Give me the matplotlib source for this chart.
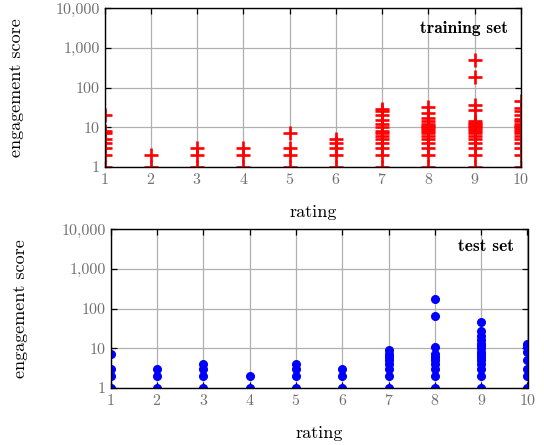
import matplotlib
matplotlib.use('Agg')
import matplotlib.pyplot as plt
from matplotlib.ticker import FixedLocator, FuncFormatter, LogLocator, NullFormatter

plt.rcParams['font.family'] = ['cmr10', 'DejaVu Serif']
plt.rcParams['axes.formatter.use_mathtext'] = True

# engagement scores per rating
train = {
    1: [1, 2, 3, 4, 5, 7, 8, 20],
    2: [1, 2],
    3: [1, 2, 3],
    4: [1, 2, 3],
    5: [1, 2, 3, 7],
    6: [1, 2, 3, 4, 5],
    7: [1, 2, 3, 4, 5, 6, 7, 8, 10, 12, 15, 20, 25, 28],
    8: [1, 2, 3, 4, 5, 6, 7, 8, 9, 10, 11, 12, 14, 17, 23, 33],
    9: [1, 2, 3, 4, 5, 6, 7, 8, 9, 10, 11, 12, 13, 14, 27, 36, 180, 500],
    10: [1, 2, 3, 4, 5, 6, 7, 8, 9, 10, 11, 12, 14, 16, 20, 25, 30, 45],
}
test = {
    1: [1, 2, 3, 7],
    2: [1, 2, 3],
    3: [1, 2, 3, 4],
    4: [1, 2],
    5: [1, 2, 3, 4],
    6: [1, 2, 3],
    7: [1, 2, 3, 4, 5, 6, 7, 9],
    8: [1, 2, 3, 4, 5, 6, 7, 11, 65, 172],
    9: [1, 2, 3, 4, 5, 6, 7, 8, 10, 12, 13, 16, 20, 27, 47],
    10: [1, 2, 3, 5, 8, 11, 13],
}
yticks = [1, 10, 100, 1000, 10000]
ratings = list(range(1, 11))


def flat(d):
    xs, ys = [], []
    for k, v in d.items():
        xs += [k] * len(v)
        ys += v
    return xs, ys


def style(ax, title, ty):
    ax.set_yscale('log')
    ax.set_xlim(1, 10)
    ax.set_ylim(1, 10000)
    ax.set_xticks(ratings)
    ax.yaxis.set_major_locator(FixedLocator(yticks))
    ax.yaxis.set_major_formatter(FuncFormatter(lambda v, p: f'{int(round(v)):,}'))
    ax.yaxis.set_minor_locator(LogLocator(base=10, subs=range(2, 10)))
    ax.yaxis.set_minor_formatter(NullFormatter())
    ax.grid(True, which='major', color='#b0b0b0', lw=0.9)
    ax.tick_params(which='both', direction='in', top=True, right=True,
                   labelcolor='#707070', labelsize=11.5, width=0.9)
    ax.tick_params(which='major', length=4)
    ax.tick_params(which='minor', length=2.5)
    for s in ax.spines.values():
        s.set_linewidth(1.0)
    ax.set_axisbelow(True)
    ax.set_xlabel('rating', fontsize=13)
    ax.set_ylabel('engagement score', fontsize=13)
    ax.text(0.968, ty, title, transform=ax.transAxes, ha='right', va='center',
            fontsize=12.5, family=['cmb10', 'DejaVu Serif'])


fig = plt.figure(figsize=(5.44, 4.45), dpi=100)
ax1 = fig.add_axes([104.5 / 544, 1 - 167 / 445, 416.5 / 544, 159 / 445])
ax2 = fig.add_axes([110.5 / 544, 1 - 388 / 445, 417 / 544, 159 / 445])

x, y = flat(train)
ax1.plot(x, y, ls='none', marker='+', color='red', ms=9.5, mew=1.9)
style(ax1, 'training set', 0.872)
ax1.yaxis.set_label_coords(-0.194, 0.5)
ax1.xaxis.set_label_coords(0.5, -0.235)

x, y = flat(test)
ax2.plot(x, y, ls='none', marker='o', color='blue', ms=5.5, mec='blue')
style(ax2, 'test set', 0.89)
ax2.yaxis.set_label_coords(-0.197, 0.5)
ax2.xaxis.set_label_coords(0.5, -0.235)

fig.savefig('out.png', dpi=100)
